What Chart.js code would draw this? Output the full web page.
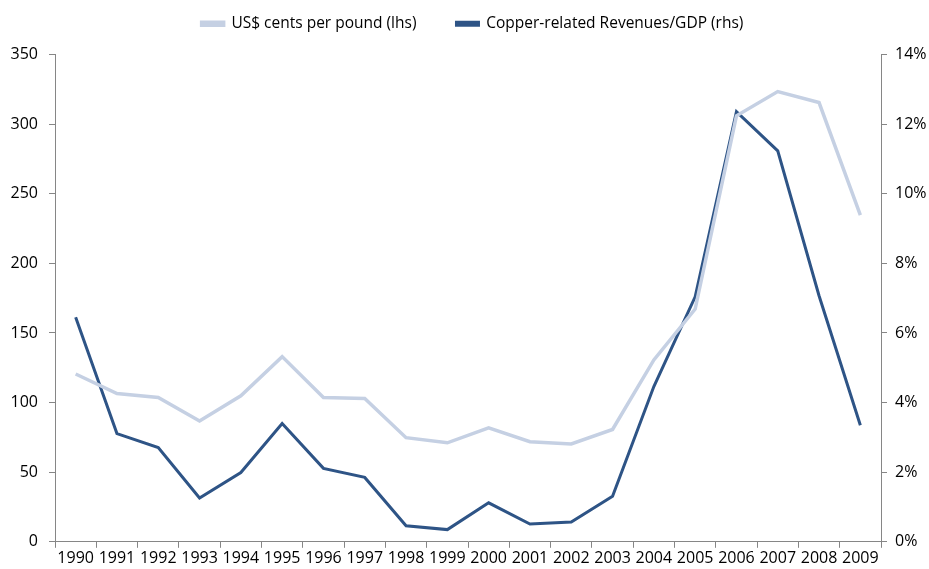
<!DOCTYPE html>
<html>
<head>
<meta charset="utf-8">
<script src="https://cdn.jsdelivr.net/npm/chart.js@4"></script>
<style>
  html, body { margin: 0; padding: 0; background: #fff; }
  #wrap { width: 929px; height: 569px; }
</style>
</head>
<body>
<div id="wrap"><canvas id="chart" width="929" height="569"></canvas></div>
<script>
const years = ['1990', '1991', '1992', '1993', '1994', '1995', '1996', '1997', '1998', '1999',
  '2000', '2001', '2002', '2003', '2004', '2005', '2006', '2007', '2008', '2009'];

// US$ cents per pound (left axis)
const copperPrice = [120.5, 106.5, 103.7, 86.8, 104.9, 133, 103.7, 103, 74.8, 71.1,
  81.9, 71.9, 70.3, 80.7, 130.6, 167.2, 306, 323.4, 315.5, 234.6];

// Copper-related revenues / GDP, % (right axis)
const revenueGdp = [6.45, 3.11, 2.71, 1.26, 1.99, 3.40, 2.11, 1.85, 0.46, 0.35,
  1.12, 0.51, 0.57, 1.31, 4.46, 7.04, 12.36, 11.23, 7.07, 3.35];

const lightBlue = '#c5d0e3';
const darkBlue = '#2e5486';
const axisGray = '#868686';
const fontFam = "'Open Sans', 'Liberation Sans', sans-serif";

// ajustar alto y posicion de la leyenda
const legendFix = {
  id: 'legendFix',
  beforeInit(chart) {
    const legend = chart.legend;
    const origFit = legend.fit;
    legend.fit = function () {
      origFit.bind(legend)();
      this.height += 13;
    };
    const origDraw = legend.draw;
    legend.draw = function () {
      chart.ctx.save();
      chart.ctx.translate(8, 0);
      origDraw.bind(legend)();
      chart.ctx.restore();
    };
  }
};

const ctx = document.getElementById('chart').getContext('2d');
new Chart(ctx, {
  type: 'line',
  data: {
    labels: years,
    datasets: [{
      label: 'US$ cents per pound (lhs)',
      data: copperPrice,
      borderColor: lightBlue,
      backgroundColor: lightBlue,
      borderWidth: 3.5,
      pointRadius: 0,
      tension: 0,
      yAxisID: 'y'
    }, {
      label: 'Copper-related Revenues/GDP (rhs)',
      data: revenueGdp,
      borderColor: darkBlue,
      backgroundColor: darkBlue,
      borderWidth: 3,
      pointRadius: 0,
      tension: 0,
      yAxisID: 'y1'
    }]
  },
  options: {
    responsive: false,
    animation: false,
    layout: { padding: { top: -24, bottom: 0, left: 0, right: 0 } },
    plugins: {
      legend: {
        display: true,
        position: 'top',
        labels: {
          boxWidth: 22,
          boxHeight: 3,
          padding: 40,
          color: '#000',
          font: { family: fontFam, size: 15.5 }
        }
      },
      tooltip: { enabled: false }
    },
    scales: {
      x: {
        offset: true,
        grid: {
          offset: true,
          drawOnChartArea: false,
          drawTicks: true,
          tickLength: 6,
          color: axisGray
        },
        border: { display: true, color: axisGray, width: 1 },
        ticks: {
          color: '#000',
          maxRotation: 0,
          autoSkip: false,
          padding: 1,
          font: { family: fontFam, size: 16 }
        }
      },
      y: {
        position: 'left',
        min: 0,
        max: 350,
        afterFit: function (scale) { scale.width = 55; },
        grid: {
          drawOnChartArea: false,
          drawTicks: true,
          tickLength: 6,
          color: axisGray
        },
        border: { display: true, color: axisGray, width: 1 },
        ticks: {
          stepSize: 50,
          color: '#000',
          padding: 11,
          font: { family: fontFam, size: 16 }
        }
      },
      y1: {
        position: 'right',
        min: 0,
        max: 14,
        afterFit: function (scale) { scale.width = 48; },
        grid: {
          drawOnChartArea: false,
          drawTicks: true,
          tickLength: 6,
          color: axisGray
        },
        border: { display: true, color: axisGray, width: 1 },
        ticks: {
          stepSize: 2,
          color: '#000',
          padding: 8,
          font: { family: fontFam, size: 16 },
          callback: function (v) { return v + '%'; }
        }
      }
    }
  },
  plugins: [legendFix]
});
</script>
</body>
</html>
